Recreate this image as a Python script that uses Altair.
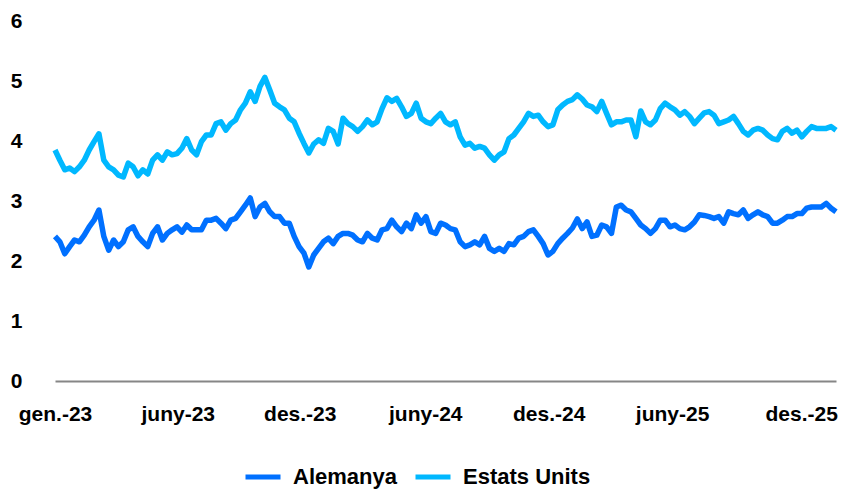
import json
import altair as alt
import pandas as pd

# Weekly readings (Monday weeks starting 2 Jan 2023), 10-year yields, %
alemanya = [
    2.41, 2.32, 2.12, 2.24, 2.35, 2.32, 2.43, 2.57, 2.68, 2.85,
    2.41, 2.18, 2.35, 2.24, 2.32, 2.52, 2.57, 2.41, 2.32, 2.24,
    2.46, 2.57, 2.35, 2.46, 2.52, 2.57, 2.48, 2.60, 2.52, 2.52,
    2.52, 2.68, 2.68, 2.71, 2.63, 2.54, 2.68, 2.71, 2.82, 2.93,
    3.05, 2.74, 2.90, 2.96, 2.82, 2.74, 2.74, 2.63, 2.63, 2.41,
    2.24, 2.13, 1.90, 2.10, 2.21, 2.32, 2.38, 2.29, 2.41, 2.46,
    2.46, 2.43, 2.35, 2.32, 2.46, 2.38, 2.35, 2.52, 2.54, 2.68,
    2.57, 2.49, 2.63, 2.54, 2.77, 2.63, 2.74, 2.49, 2.46, 2.63,
    2.60, 2.54, 2.52, 2.32, 2.24, 2.27, 2.32, 2.27, 2.41, 2.21,
    2.16, 2.21, 2.16, 2.29, 2.27, 2.38, 2.41, 2.49, 2.52, 2.41,
    2.29, 2.10, 2.16, 2.29, 2.38, 2.46, 2.55, 2.70, 2.54, 2.65,
    2.41, 2.43, 2.60, 2.57, 2.46, 2.90, 2.93, 2.85, 2.82, 2.71,
    2.60, 2.54, 2.46, 2.54, 2.68, 2.68, 2.57, 2.60, 2.54, 2.52,
    2.57, 2.65, 2.77, 2.76, 2.74, 2.71, 2.74, 2.63, 2.82, 2.79,
    2.77, 2.85, 2.71, 2.77, 2.82, 2.77, 2.74, 2.63, 2.63, 2.68,
    2.74, 2.74, 2.79, 2.79, 2.88, 2.90, 2.90, 2.90, 2.96, 2.88,
    2.82,
]

estats_units = [
    3.85, 3.68, 3.52, 3.55, 3.49, 3.57, 3.68, 3.85, 3.99, 4.12,
    3.68, 3.57, 3.52, 3.43, 3.40, 3.63, 3.57, 3.42, 3.52, 3.45,
    3.68, 3.77, 3.68, 3.82, 3.77, 3.79, 3.88, 4.04, 3.85, 3.77,
    3.99, 4.10, 4.10, 4.29, 4.32, 4.18, 4.29, 4.35, 4.52, 4.63,
    4.82, 4.66, 4.91, 5.06, 4.85, 4.63, 4.57, 4.52, 4.38, 4.32,
    4.13, 3.96, 3.80, 3.95, 4.02, 3.96, 4.21, 4.16, 3.95, 4.38,
    4.29, 4.24, 4.16, 4.24, 4.35, 4.27, 4.32, 4.54, 4.72, 4.66,
    4.71, 4.57, 4.41, 4.46, 4.63, 4.38, 4.32, 4.29, 4.38, 4.46,
    4.32, 4.27, 4.32, 4.07, 3.93, 3.96, 3.88, 3.91, 3.88, 3.77,
    3.68, 3.77, 3.82, 4.04, 4.10, 4.21, 4.32, 4.46, 4.41, 4.43,
    4.32, 4.24, 4.27, 4.52, 4.60, 4.66, 4.69, 4.77, 4.70, 4.60,
    4.57, 4.49, 4.66, 4.46, 4.27, 4.32, 4.32, 4.35, 4.35, 4.07,
    4.50, 4.32, 4.27, 4.35, 4.54, 4.63, 4.57, 4.52, 4.43, 4.49,
    4.41, 4.29, 4.38, 4.47, 4.49, 4.43, 4.29, 4.32, 4.35, 4.41,
    4.29, 4.16, 4.10, 4.18, 4.21, 4.18, 4.10, 4.04, 4.02, 4.16,
    4.21, 4.13, 4.18, 4.07, 4.16, 4.24, 4.21, 4.21, 4.21, 4.24,
    4.18,
]

series_names = ["Alemanya", "Estats Units"]
series_colors = ["#0070FF", "#00B8FF"]

start_date = "2023-01-02"
end_date = "2026-01-26"

tick_dates = ["2023-01-02", "2023-06-27", "2023-12-19", "2024-06-16",
              "2024-12-10", "2025-06-05", "2025-12-07"]
month_names = ["gen.", "febr.", "març", "abr.", "maig", "juny",
               "jul.", "ag.", "set.", "oct.", "nov.", "des."]
y_ticks = [0, 1, 2, 3, 4, 5, 6]

assert len(alemanya) == len(estats_units)
dates = pd.date_range(start_date, periods=len(alemanya), freq="7D")
df = pd.concat([
    pd.DataFrame({"data": dates, "valor": alemanya, "serie": series_names[0]}),
    pd.DataFrame({"data": dates, "valor": estats_units, "serie": series_names[1]}),
])


def to_dt(s):
    y, m, d = (int(v) for v in s.split("-"))
    return alt.DateTime(year=y, month=m, date=d)


label_expr = (json.dumps(month_names) + "[month(datum.value)] + '-' + timeFormat(datum.value, '%y')")

FONT = "Liberation Sans"

chart = alt.Chart(df).mark_line(strokeWidth=5.5, strokeJoin="round").encode(
    x=alt.X(
        "data:T",
        scale=alt.Scale(domain=[to_dt(start_date), to_dt(end_date)], nice=False),
        axis=alt.Axis(
            title=None,
            values=[to_dt(d) for d in tick_dates],
            labelExpr=label_expr,
            ticks=False,
            tickSize=0,
            grid=False,
            domain=True,
            domainColor="#868686",
            domainWidth=2,
            labelFont=FONT,
            labelFontWeight="bold",
            labelFontSize=21,
            labelColor="#000000",
            labelPadding=22,
            labelBaseline="top",
            labelOverlap=False,
            labelFlush=False,
        ),
    ),
    y=alt.Y(
        "valor:Q",
        scale=alt.Scale(domain=[0, 6], nice=False),
        axis=alt.Axis(
            title=None,
            values=y_ticks,
            ticks=False,
            tickSize=0,
            grid=False,
            domain=False,
            labelFont=FONT,
            labelFontWeight="bold",
            labelFontSize=21,
            labelColor="#000000",
            labelPadding=33,
            labelAlign="right",
        ),
    ),
    color=alt.Color(
        "serie:N",
        scale=alt.Scale(domain=series_names, range=series_colors),
        legend=alt.Legend(
            title=None,
            orient="none",
            direction="horizontal",
            legendX=188,
            legendY=436,
            symbolType="stroke",
            symbolStrokeWidth=5,
            symbolSize=1225,
            labelFont=FONT,
            labelFontWeight="bold",
            labelFontSize=22,
            labelColor="#000000",
            labelOffset=10,
            columnPadding=8,
            padding=0,
        ),
    ),
).properties(
    width=781,
    height=360,
    padding={"left": 55, "top": 21, "right": 6, "bottom": 109},
    autosize=alt.AutoSizeParams(type="none"),
    background="#ffffff",
).configure_view(stroke=None)

chart.save("out.html", embed_options={"renderer": "svg", "actions": False})
